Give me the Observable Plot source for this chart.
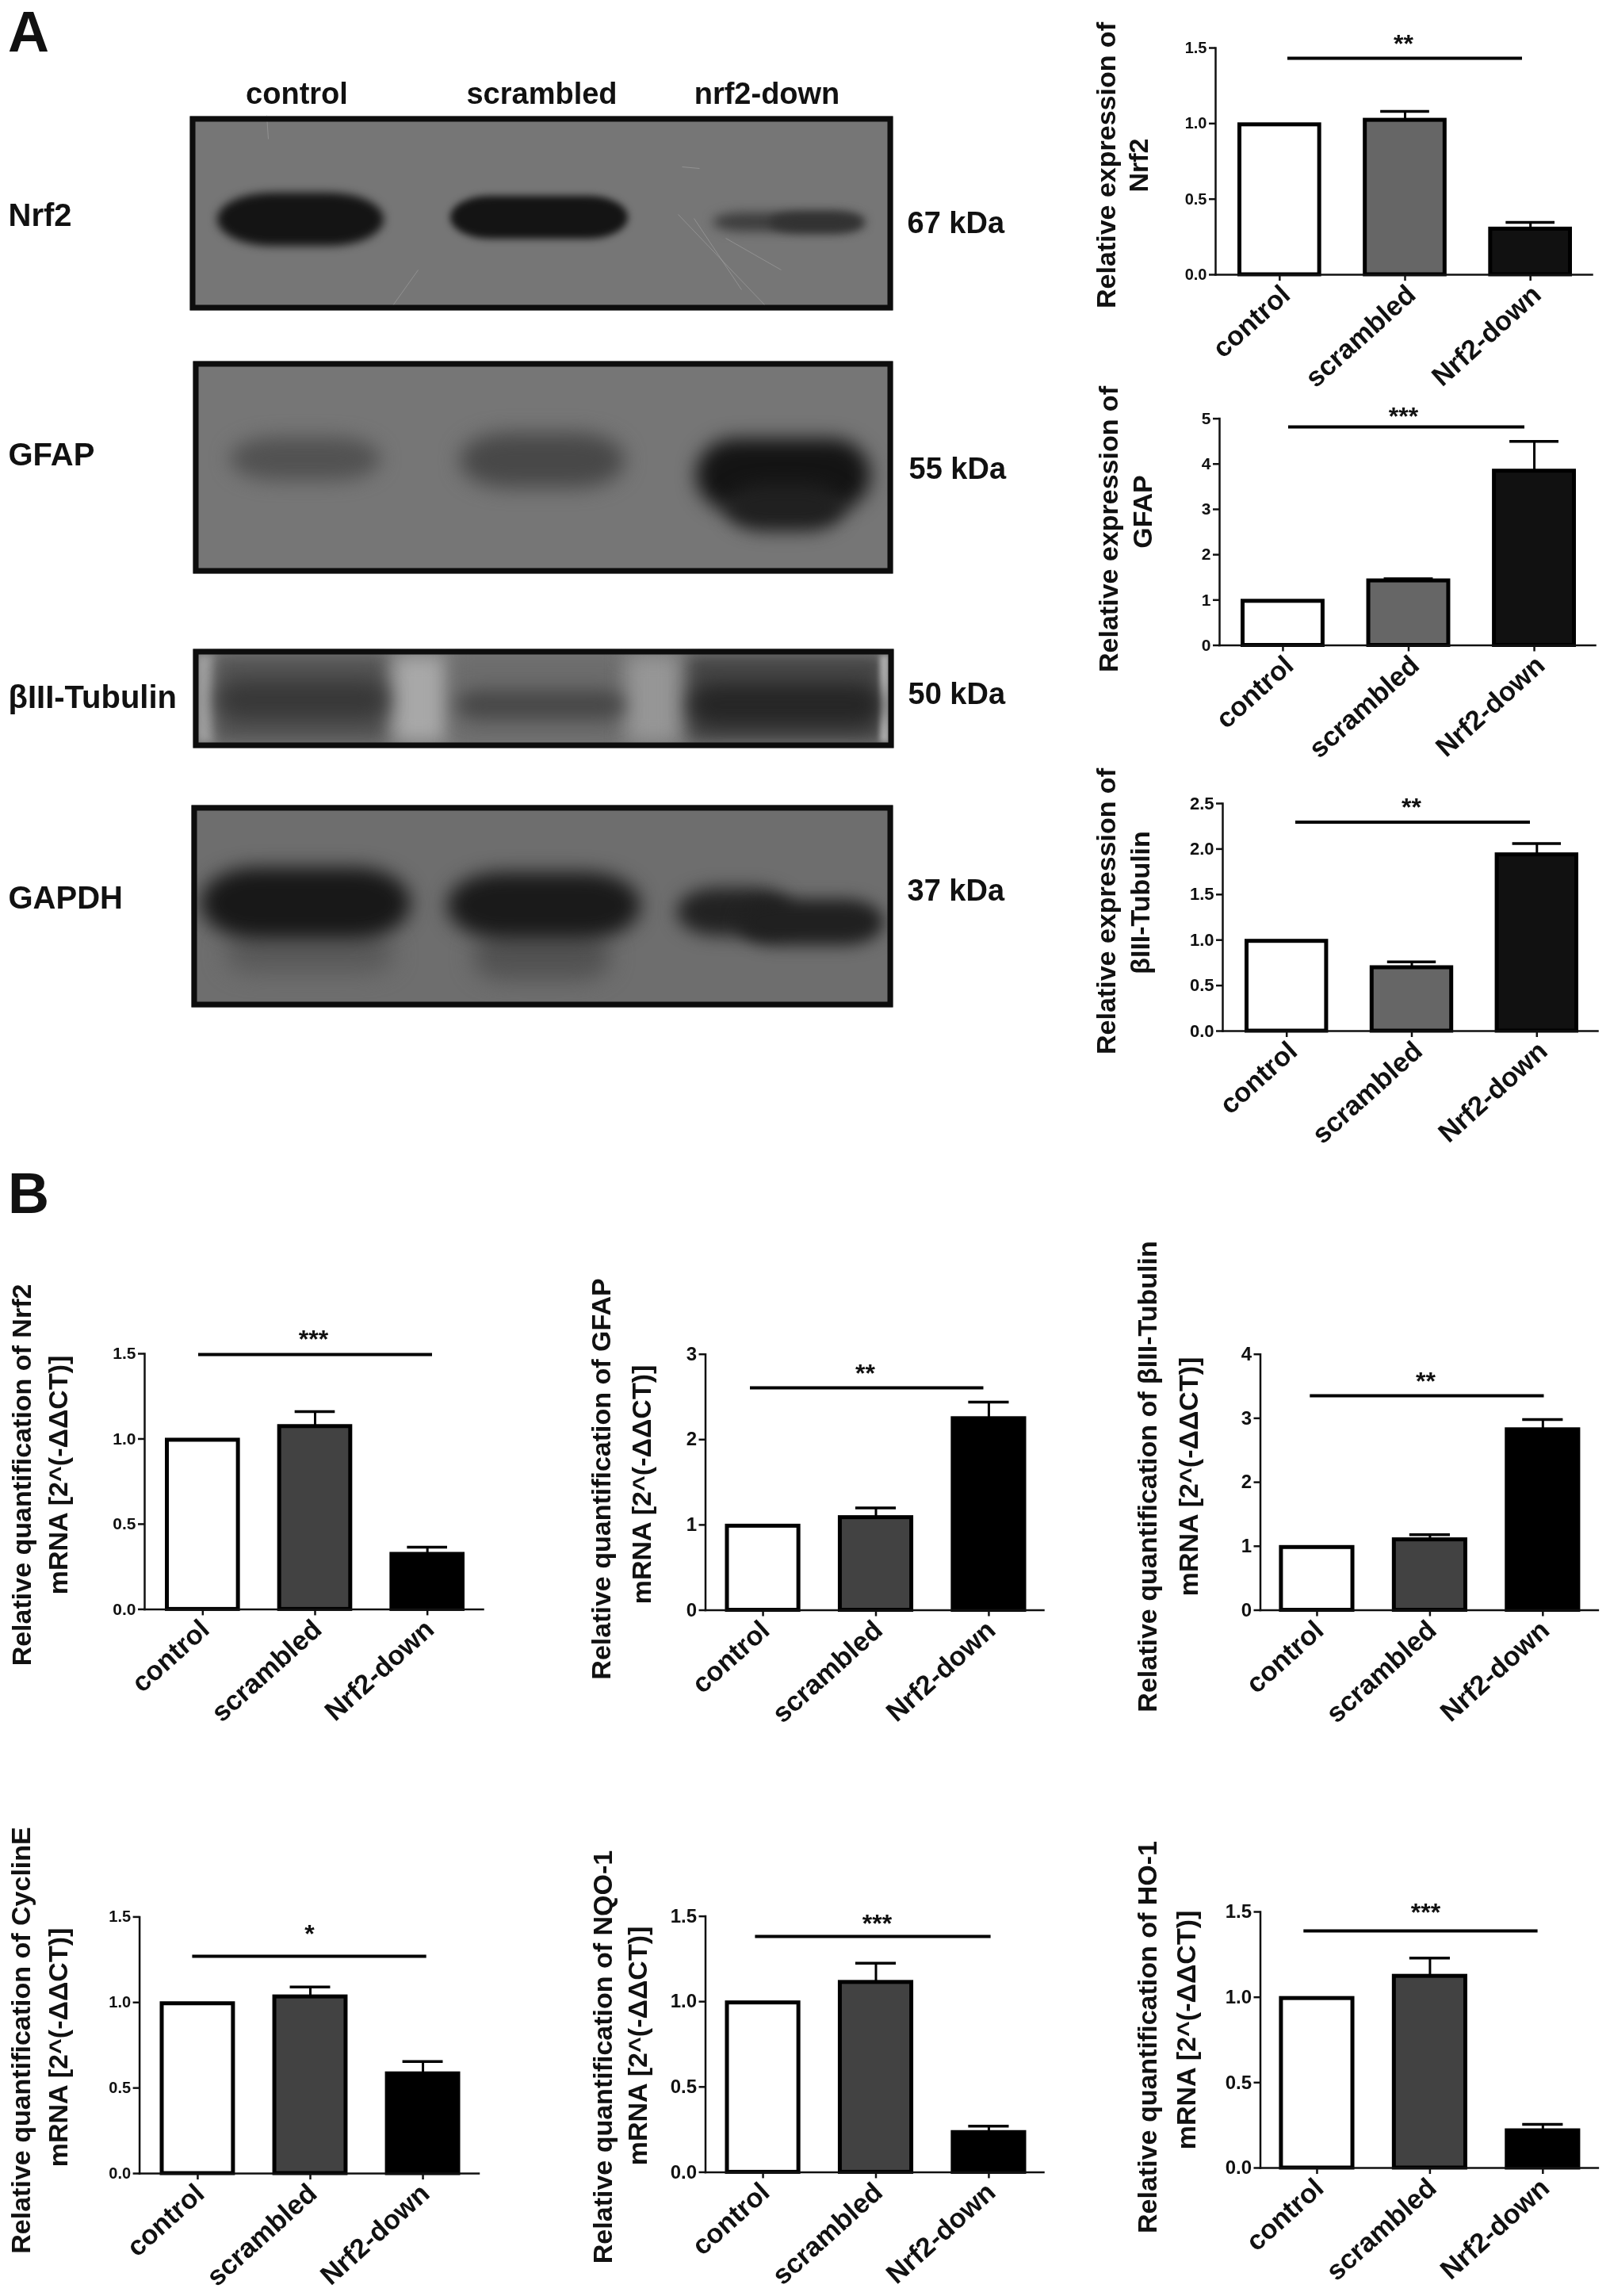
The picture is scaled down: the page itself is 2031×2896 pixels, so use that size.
<!DOCTYPE html>
<html><head><meta charset="utf-8">
<script src="https://cdn.jsdelivr.net/npm/d3@7"></script>
<script src="https://cdn.jsdelivr.net/npm/@observablehq/plot@0.6"></script>
<style>
html,body{margin:0;padding:0;background:#fff}
#page{position:relative;width:2031px;height:2896px;overflow:hidden;font-family:"Liberation Sans",Arial,sans-serif;color:#111}
#page svg{position:absolute;filter:blur(.6px)}
.letter{position:absolute;font-weight:bold;font-size:72px;line-height:72px;filter:blur(.6px)}
</style></head><body><div id="page"></div>
<script>
const FONT = '"Liberation Sans",Arial,sans-serif';
const groups = ["control","scrambled","Nrf2-down"];
const laneHeaders = ["control","scrambled","nrf2-down"];
const laneHeaderX = [374,683,967];

const proteinNrf2 = [1.0,1.03,0.31],  proteinNrf2Err = [null,1.08,0.346];
const proteinGfap = [1.0,1.45,3.87],  proteinGfapErr = [null,1.47,4.5];
const proteinTub  = [1.0,0.71,1.95],  proteinTubErr  = [null,0.76,2.06];
const mrnaNrf2 = [1.0,1.08,0.33],  mrnaNrf2Err = [null,1.16,0.365];
const mrnaGfap = [1.0,1.1,2.26],   mrnaGfapErr = [null,1.2,2.44];
const mrnaTub  = [1.0,1.12,2.84],  mrnaTubErr  = [null,1.18,2.98];
const mrnaCyc  = [1.0,1.04,0.59],  mrnaCycErr  = [null,1.09,0.655];
const mrnaNqo  = [1.0,1.12,0.24],  mrnaNqoErr  = [null,1.225,0.27];
const mrnaHo   = [1.0,1.13,0.225], mrnaHoErr   = [null,1.23,0.255];

const greysA = ["#fff","#666","#111"], greysB = ["#fff","#424242","#000"];

const charts = [
 {v:proteinNrf2,e:proteinNrf2Err,t:[0,.5,1,1.5],f:".1f",max:1.5,br:1.432,st:"**",fill:greysA,tf:20,ldx:8,l:["Relative expression of","Nrf2"],
  cell:[1370,10,661,470],axis:1533,right:2008,top:60,zero:346,b:[1561,1983],bk:[1624,1920],sx:1770,sy:50,lx:[1396,1437],ly:[208,208]},
 {v:proteinGfap,e:proteinGfapErr,t:[0,1,2,3,4,5],f:"d",max:5,br:4.82,st:"***",fill:greysA,tf:21,ldx:8,l:["Relative expression of","GFAP"],
  cell:[1370,480,661,480],axis:1538,right:2012,top:527.6,zero:813.5,b:[1565,1988],bk:[1625,1923],sx:1770,sy:520,lx:[1398.5,1442],ly:[667,645]},
 {v:proteinTub,e:proteinTubErr,t:[0,.5,1,1.5,2,2.5],f:".1f",max:2.5,br:2.296,st:"**",fill:greysA,tf:22,ldx:8,l:["Relative expression of","βIII-Tubulin"],
  cell:[1370,960,661,490],axis:1542,right:2015,top:1013,zero:1300,b:[1570,1991],bk:[1634,1930],sx:1780,sy:1013,lx:[1396,1439],ly:[1149,1138]},
 {v:mrnaNrf2,e:mrnaNrf2Err,t:[0,.5,1,1.5],f:".1f",max:1.5,br:1.495,st:"***",fill:greysB,tf:21,ldx:3,l:["Relative quantification of Nrf2","mRNA [2^(-ΔΔCT)]"],
  cell:[0,1550,690,650],axis:182,right:609,top:1707,zero:2029.4,b:[208,586],bk:[250,545],sx:395,sy:1684,lx:[28,74],ly:[1860,1860]},
 {v:mrnaGfap,e:mrnaGfapErr,t:[0,1,2,3],f:"d",max:3,br:2.607,st:"**",fill:greysB,tf:24,ldx:3,l:["Relative quantification of GFAP","mRNA [2^(-ΔΔCT)]"],
  cell:[700,1550,660,650],axis:889.5,right:1316,top:1707.7,zero:2030.5,b:[914.5,1294.5],bk:[946,1240.5],sx:1091,sy:1727,lx:[759,810],ly:[1865,1872]},
 {v:mrnaTub,e:mrnaTubErr,t:[0,1,2,3,4],f:"d",max:4,br:3.352,st:"**",fill:greysB,tf:24,ldx:3,l:["Relative quantification of βIII-Tubulin","mRNA [2^(-ΔΔCT)]"],
  cell:[1371,1550,660,650],axis:1589.5,right:2015.4,top:1707.7,zero:2030.5,b:[1613.4,1993.4],bk:[1652.3,1947.5],sx:1798,sy:1737,lx:[1448,1500],ly:[1862,1862]},
 {v:mrnaCyc,e:mrnaCycErr,t:[0,.5,1,1.5],f:".1f",max:1.5,br:1.27,st:"*",fill:greysB,tf:20,ldx:3,l:["Relative quantification of CyclinE","mRNA [2^(-ΔΔCT)]"],
  cell:[0,2230,690,666],axis:175.6,right:603.5,top:2417.4,zero:2741,b:[201.5,580.5],bk:[242.4,537.7],sx:390,sy:2434,lx:[27,74],ly:[2573,2582]},
 {v:mrnaNqo,e:mrnaNqoErr,t:[0,.5,1,1.5],f:".1f",max:1.5,br:1.382,st:"***",fill:greysB,tf:24,ldx:3,l:["Relative quantification of NQO-1","mRNA [2^(-ΔΔCT)]"],
  cell:[700,2230,660,666],axis:889.5,right:1316,top:2416.6,zero:2739.4,b:[914.5,1294.5],bk:[952.4,1249.6],sx:1106,sy:2421,lx:[761,805],ly:[2594,2580]},
 {v:mrnaHo,e:mrnaHoErr,t:[0,.5,1,1.5],f:".1f",max:1.5,br:1.389,st:"***",fill:greysB,tf:24,ldx:3,l:["Relative quantification of HO-1","mRNA [2^(-ΔΔCT)]"],
  cell:[1371,2230,660,666],axis:1589.5,right:2015.4,top:2411,zero:2734,b:[1613.4,1993.4],bk:[1644.3,1939.6],sx:1798,sy:2407,lx:[1448,1497],ly:[2569,2560]}
];

// Western-blot panels: gel area, lane bands [x1,x2,y1,y2,grey level,blur,corner]
const blots = [
 {name:"Nrf2",kda:"67 kDa",box:[239,1126,146,391],bg:118,nameY:272,kdaX:1144,kdaY:281,
  bands:[[274,484,243,310,20,6,70],[568,792,247,301,20,5,50],[899,1090,268,292,62,7,40],[970,1090,268,293,50,6,40]],
  scratches:[[495,385,527,340],[855,270,965,385],[875,275,935,365],[860,210,882,212],[336,145,338,175],[915,300,985,340]]},
 {name:"GFAP",kda:"55 kDa",box:[243,1126,455,723],bg:118,nameY:574,kdaX:1146,kdaY:591,
  bands:[[290,480,551,606,82,12,60],[580,788,546,615,72,13,60],[878,1098,553,645,20,12,50],[915,1065,610,670,32,11,50]],scratches:[]},
 {name:"βIII-Tubulin",kda:"50 kDa",box:[243,1127,818,943],bg:118,nameY:880,kdaX:1145,kdaY:875,
  bands:[[249,271,826,936,165,6,0],[271,492,826,936,84,11,0],[496,562,826,936,168,12,0],[572,786,826,936,108,11,0],[791,856,826,936,150,12,0],[868,1114,826,936,70,10,0],[1110,1122,826,936,170,3,0],
         [274,490,858,908,56,13,30],[576,788,870,908,72,11,30],[870,1112,862,916,38,12,30]],scratches:[]},
 {name:"GAPDH",kda:"37 kDa",box:[241,1126,1015,1270],bg:110,nameY:1133,kdaX:1144,kdaY:1123,
  bands:[[283,498,1180,1228,90,14,40],[596,771,1178,1236,82,14,40],[253,518,1094,1184,24,12,70],[564,808,1100,1184,26,12,70],[854,1000,1120,1180,34,11,50],[930,1115,1134,1192,32,10,50]],scratches:[]}
];

const page = document.getElementById("page");
function place(svg,x,y){svg.style.left=x+"px";svg.style.top=y+"px";page.appendChild(svg);}

function barChart(c){
  const [ox,oy,w,h]=c.cell;
  const rows=groups.map((g,i)=>({group:g,value:c.v[i],err:c.e[i],fill:c.fill[i]}));
  const errs=rows.filter(d=>d.err!=null);
  const txt={fontFamily:FONT,fontWeight:"bold",fill:"#111"};
  const bracket=[{y:c.br,a:groups[0],b:groups[2]}];
  const star=[{s:c.st}];
  const yv=c.max*(c.zero-c.sy)/(c.zero-c.top);
  const svg=Plot.plot({
    width:w,height:h,
    marginLeft:c.axis-ox,marginRight:ox+w-c.right,marginTop:c.top-oy,marginBottom:oy+h-c.zero,
    style:{background:"transparent",overflow:"visible"},
    x:{type:"band",domain:groups,range:[c.b[0]-ox,c.b[1]-ox],paddingInner:.332,paddingOuter:0,round:false,label:null},
    y:{domain:[0,c.max],label:null},
    marks:[
      Plot.ruleX(errs,{x:"group",y1:"value",y2:"err",stroke:"#000",strokeWidth:3}),
      Plot.tickY(errs,{x:"group",y:"err",stroke:"#000",strokeWidth:3.5,insetLeft:22,insetRight:22}),
      Plot.barY(rows,{x:"group",y:"value",fill:"fill",stroke:"#000",strokeWidth:5,insetLeft:2.5,insetRight:2.5,insetTop:1.5}),
      Plot.frame({anchor:"left",stroke:"#111",strokeWidth:2.5}),
      Plot.frame({anchor:"bottom",stroke:"#111",strokeWidth:2.5}),
      Plot.axisY({ticks:c.t,tickFormat:d3.format(c.f),tickSize:8,tickPadding:3,strokeWidth:2.5,stroke:"#111",fontSize:c.tf,...txt}),
      Plot.axisX({tickSize:8,fill:"none",strokeWidth:2.5,stroke:"#111",label:null}),
      Plot.axisX({tickSize:0,tickPadding:10,tickRotate:-42,fontSize:34.5,label:null,dx:c.ldx,dy:10,...txt}),
      Plot.ruleY(bracket,{y:"y",x1:"a",x2:"b",stroke:"#000",strokeWidth:4,insetLeft:c.bk[0]-c.b[0],insetRight:c.b[1]-c.bk[1]}),
      Plot.text(star,{x:()=>groups[1],y:()=>yv,text:"s",dx:c.sx-(c.b[0]+c.b[1])/2,dy:5,fontSize:32,clip:false,...txt}),
      Plot.text([c.l[0]],{frameAnchor:"top-left",dx:c.lx[0]-c.axis,dy:c.ly[0]-c.top,rotate:-90,textAnchor:"middle",lineAnchor:"middle",fontSize:34,...txt}),
      Plot.text([c.l[1]],{frameAnchor:"top-left",dx:c.lx[1]-c.axis,dy:c.ly[1]-c.top,rotate:-90,textAnchor:"middle",lineAnchor:"middle",fontSize:34,...txt})
    ]
  });
  place(svg,ox,oy);
}

function blot(b,i){
  const [x0,x1,y0,y1]=b.box;
  const top=i===0?60:10, W=1290;
  const bands=b.bands.map(([a,c,d,e,g,bl,r])=>({x1:a,x2:c,y1:d,y2:e,g,bl,r}));
  const txt={fontFamily:FONT,fontWeight:"bold",fill:"#111"};
  const svg=Plot.plot({
    width:W,height:(y1-y0)+top+10,
    marginLeft:x0,marginRight:W-x1,marginTop:top,marginBottom:10,
    style:{background:"transparent",overflow:"visible"},
    x:{domain:[x0,x1],axis:null},
    y:{domain:[y1,y0],axis:null},
    color:{type:"linear",domain:[0,255],range:["#000","#fff"]},
    marks:[
      Plot.frame({fill:`rgb(${b.bg},${b.bg},${b.bg})`,stroke:null}),
      ...bands.map(d=>Plot.rect([d],{x1:"x1",x2:"x2",y1:"y1",y2:"y2",fill:"g",rx:d.r,imageFilter:`blur(${d.bl}px)`,clip:true})),
      Plot.link(b.scratches.map(([a,c,d,e])=>({a,c,d,e})),{x1:"a",y1:"c",x2:"d",y2:"e",stroke:"#a8a8a8",strokeWidth:1,strokeOpacity:.55}),
      Plot.frame({stroke:"#0d0d0d",strokeWidth:7,inset:3.5,fill:"none"}),
      Plot.text([b.name],{frameAnchor:"top-left",dx:10-x0,dy:b.nameY-y0,textAnchor:"start",lineAnchor:"middle",fontSize:40,...txt}),
      Plot.text([b.kda],{frameAnchor:"top-left",dx:b.kdaX-x0,dy:b.kdaY-y0,textAnchor:"start",lineAnchor:"middle",fontSize:38,...txt}),
      ...(i===0?[Plot.text(laneHeaders,{x:d=>laneHeaderX[laneHeaders.indexOf(d)],dy:-28,frameAnchor:"top",textAnchor:"middle",lineAnchor:"middle",fontSize:38,...txt})]:[])
    ]
  });
  place(svg,0,y0-top);
}

blots.forEach(blot);
charts.forEach(barChart);

[["A",10,4],["B",10,1469]].forEach(([t,x,y])=>{
  const d=document.createElement("div");d.className="letter";d.textContent=t;
  d.style.left=x+"px";d.style.top=y+"px";page.appendChild(d);
});
</script></body></html>
